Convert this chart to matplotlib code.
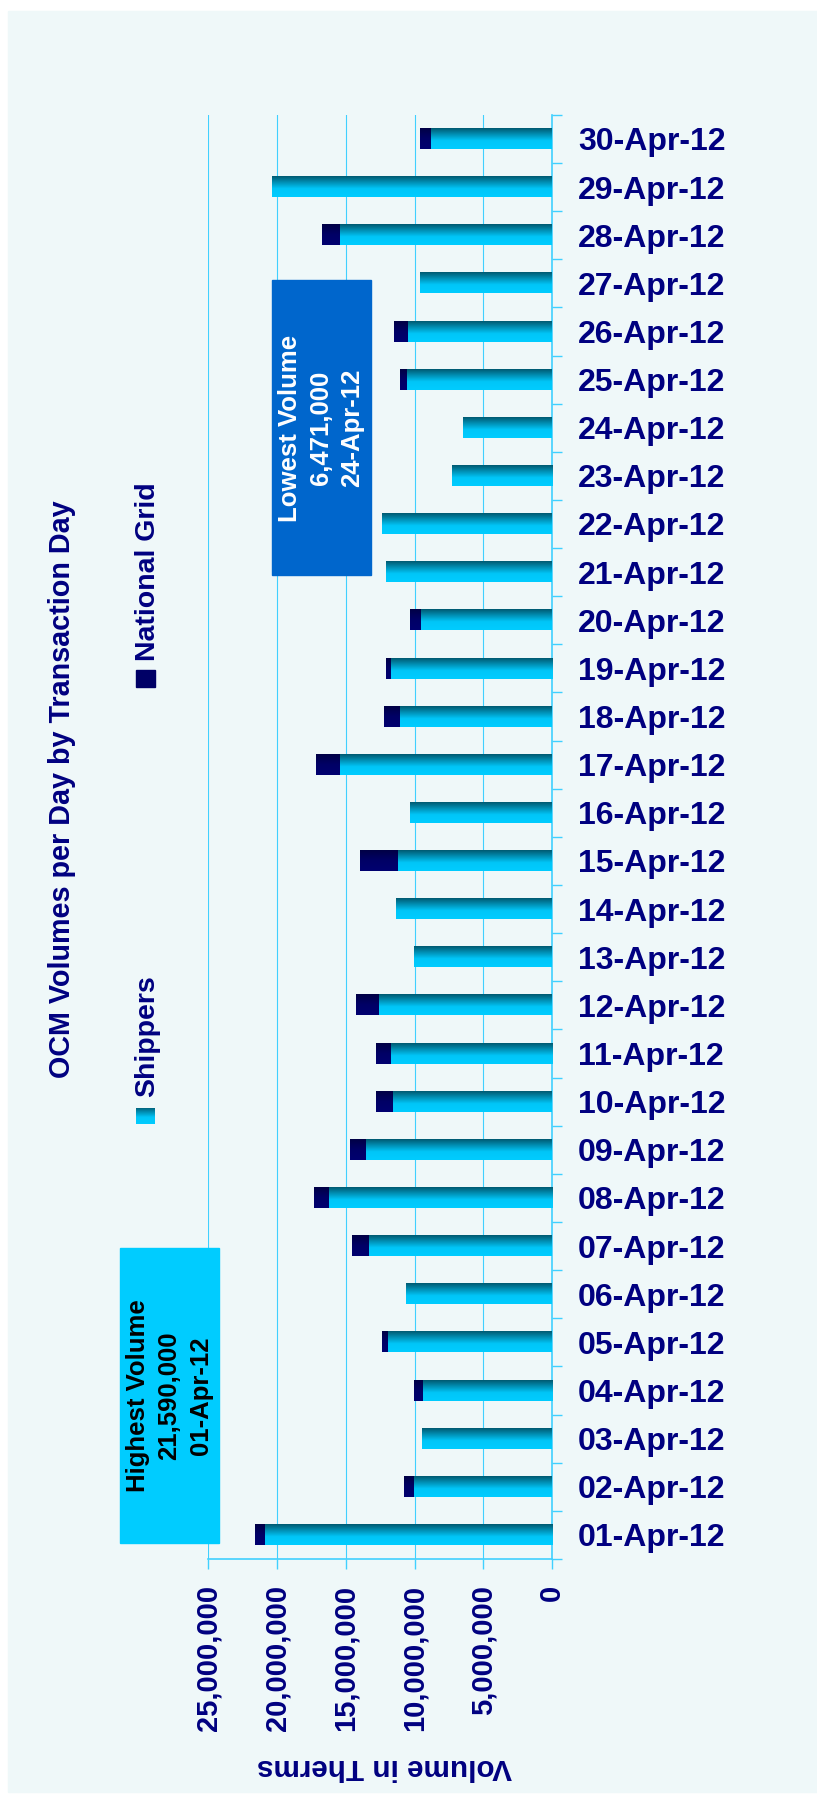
import numpy as np
import matplotlib
matplotlib.use("Agg")
import matplotlib.pyplot as plt
from matplotlib.colors import LinearSegmentedColormap
from matplotlib.patches import Rectangle
from matplotlib.ticker import FuncFormatter

# data (therms)
days = ['%02d-Apr-12' % d for d in range(1, 31)]
shippers = [20910000, 10090000, 9440000, 9400000, 11980000, 10620000,
            13310000, 16230000, 13580000, 11570000, 11720000, 12590000,
            10010000, 11340000, 11260000, 10310000, 15470000, 11110000,
            11720000, 9520000, 12060000, 12360000, 7280000, 6471000,
            10540000, 10540000, 9590000, 15470000, 20360000, 8800000]
national_grid = [680000, 680000, 0, 610000, 380000, 0,
                 1210000, 1060000, 1100000, 1210000, 1060000, 1670000,
                 0, 0, 2700000, 0, 1710000, 1100000,
                 340000, 790000, 0, 0, 0, 0,
                 500000, 950000, 0, 1250000, 0, 790000]
value_ticks = [0, 5000000, 10000000, 15000000, 20000000, 25000000]

navy = '#000080'
grid_c = '#40D0FF'
panel_c = '#EFF8F9'

plt.rcParams['font.family'] = ['Liberation Sans', 'DejaVu Sans']

W, H = 817, 1797
fig = plt.figure(figsize=(W / 100, H / 100), dpi=100)
fig.patch.set_facecolor('white')

def fx(x):
    return x / W

def fy(y):
    return 1 - y / H

# light panel behind everything
fig.patches.append(Rectangle((fx(8), fy(1792)), 1, (1792 - 11) / H,
                             transform=fig.transFigure, color=panel_c, zorder=-5))

ax = fig.add_axes([fx(208.4), fy(1559), (551.9 - 208.4) / W, (1559 - 114.8) / H])
ax.set_facecolor('none')

ship_cm = LinearSegmentedColormap.from_list(
    'ship', [(0, '#00CCFF'), (0.4, '#00C6F8'), (1, '#005A72')])
ng_cm = LinearSegmentedColormap.from_list(
    'ng', [(0, '#000070'), (0.5, '#000066'), (1, '#000045')])
grad = np.linspace(0, 1, 64).reshape(-1, 1)

h = 0.42
for i in range(len(days)):
    s = shippers[i]
    n = national_grid[i]
    ax.imshow(grad, extent=(0, s, i - h / 2, i + h / 2), origin='lower',
              aspect='auto', cmap=ship_cm, zorder=3, interpolation='bilinear')
    if n > 0:
        ax.imshow(grad, extent=(s, s + n, i - h / 2, i + h / 2), origin='lower',
                  aspect='auto', cmap=ng_cm, zorder=3, interpolation='bilinear')

ax.set_xlim(25000000, 0)
ax.set_ylim(-0.5, len(days) - 0.5)

ax.set_xticks(value_ticks)
ax.xaxis.set_major_formatter(FuncFormatter(lambda v, p: f'{int(v):,}'))
ax.tick_params(axis='x', direction='out', length=7.2, width=1, color=grid_c,
               labelrotation=90, pad=11.5, labelsize=21, labelcolor=navy)
for t in ax.get_xticklabels():
    t.set_fontweight('bold')
ax.grid(axis='x', color=grid_c, lw=0.8, zorder=1)

ax.set_yticks(range(len(days)))
ax.set_yticklabels(days, fontweight='bold')
ax.yaxis.tick_right()
ax.set_yticks(np.arange(-0.5, len(days), 1), minor=True)
ax.tick_params(axis='y', which='major', length=0, pad=18.7, labelsize=23,
               labelcolor=navy, right=True, left=False)
ax.tick_params(axis='y', which='minor', length=7.2, width=1, color=grid_c,
               direction='out', right=True, left=False)

for side in ['top', 'left']:
    ax.spines[side].set_visible(False)
for side in ['right', 'bottom']:
    ax.spines[side].set_color(grid_c)
    ax.spines[side].set_linewidth(1.2)

# title and legend (rotated like the source)
fig.text(fx(70), fy(1078), 'OCM Volumes per Day by Transaction Day',
         rotation=90, rotation_mode='anchor', ha='left', va='baseline',
         fontsize=20.7, fontweight='bold', color=navy)

lax = fig.add_axes([fx(136), fy(1124.5), 19 / W, 17 / H])
lax.imshow(grad, cmap=ship_cm, aspect='auto', origin='lower')
lax.axis('off')
fig.text(fx(154), fy(1097), 'Shippers', rotation=90, rotation_mode='anchor',
         ha='left', va='baseline', fontsize=20.5, fontweight='bold', color=navy)

fig.patches.append(Rectangle((fx(136), fy(686.5)), 19 / W, 17 / H,
                             transform=fig.transFigure, color='#000066', zorder=2))
fig.text(fx(155), fy(661), 'National Grid', rotation=90, rotation_mode='anchor',
         ha='left', va='baseline', fontsize=20.5, fontweight='bold', color=navy)

# annotation boxes
fig.patches.append(Rectangle((fx(120), fy(1543)), 99 / W, (1543 - 1248) / H,
                             transform=fig.transFigure, color='#00CCFF', zorder=2))
fig.text(fx(169.5), fy(1396), 'Highest Volume\n21,590,000\n01-Apr-12',
         rotation=90, ha='center', va='center', multialignment='center',
         linespacing=1.37, fontsize=18.5, fontweight='bold', color='black',
         zorder=3)

fig.patches.append(Rectangle((fx(272), fy(575)), 99 / W, (575 - 280) / H,
                             transform=fig.transFigure, color='#0066CC', zorder=2))
fig.text(fx(321), fy(428), 'Lowest Volume\n6,471,000\n24-Apr-12',
         rotation=90, ha='center', va='center', multialignment='center',
         linespacing=1.37, fontsize=18.5, fontweight='bold', color='white',
         zorder=3)

fig.text(fx(384), fy(1767), 'Volume in Therms', rotation=180,
         ha='center', va='center', fontsize=21.3, fontweight='bold', color=navy)

fig.savefig('out.png', dpi=100)
